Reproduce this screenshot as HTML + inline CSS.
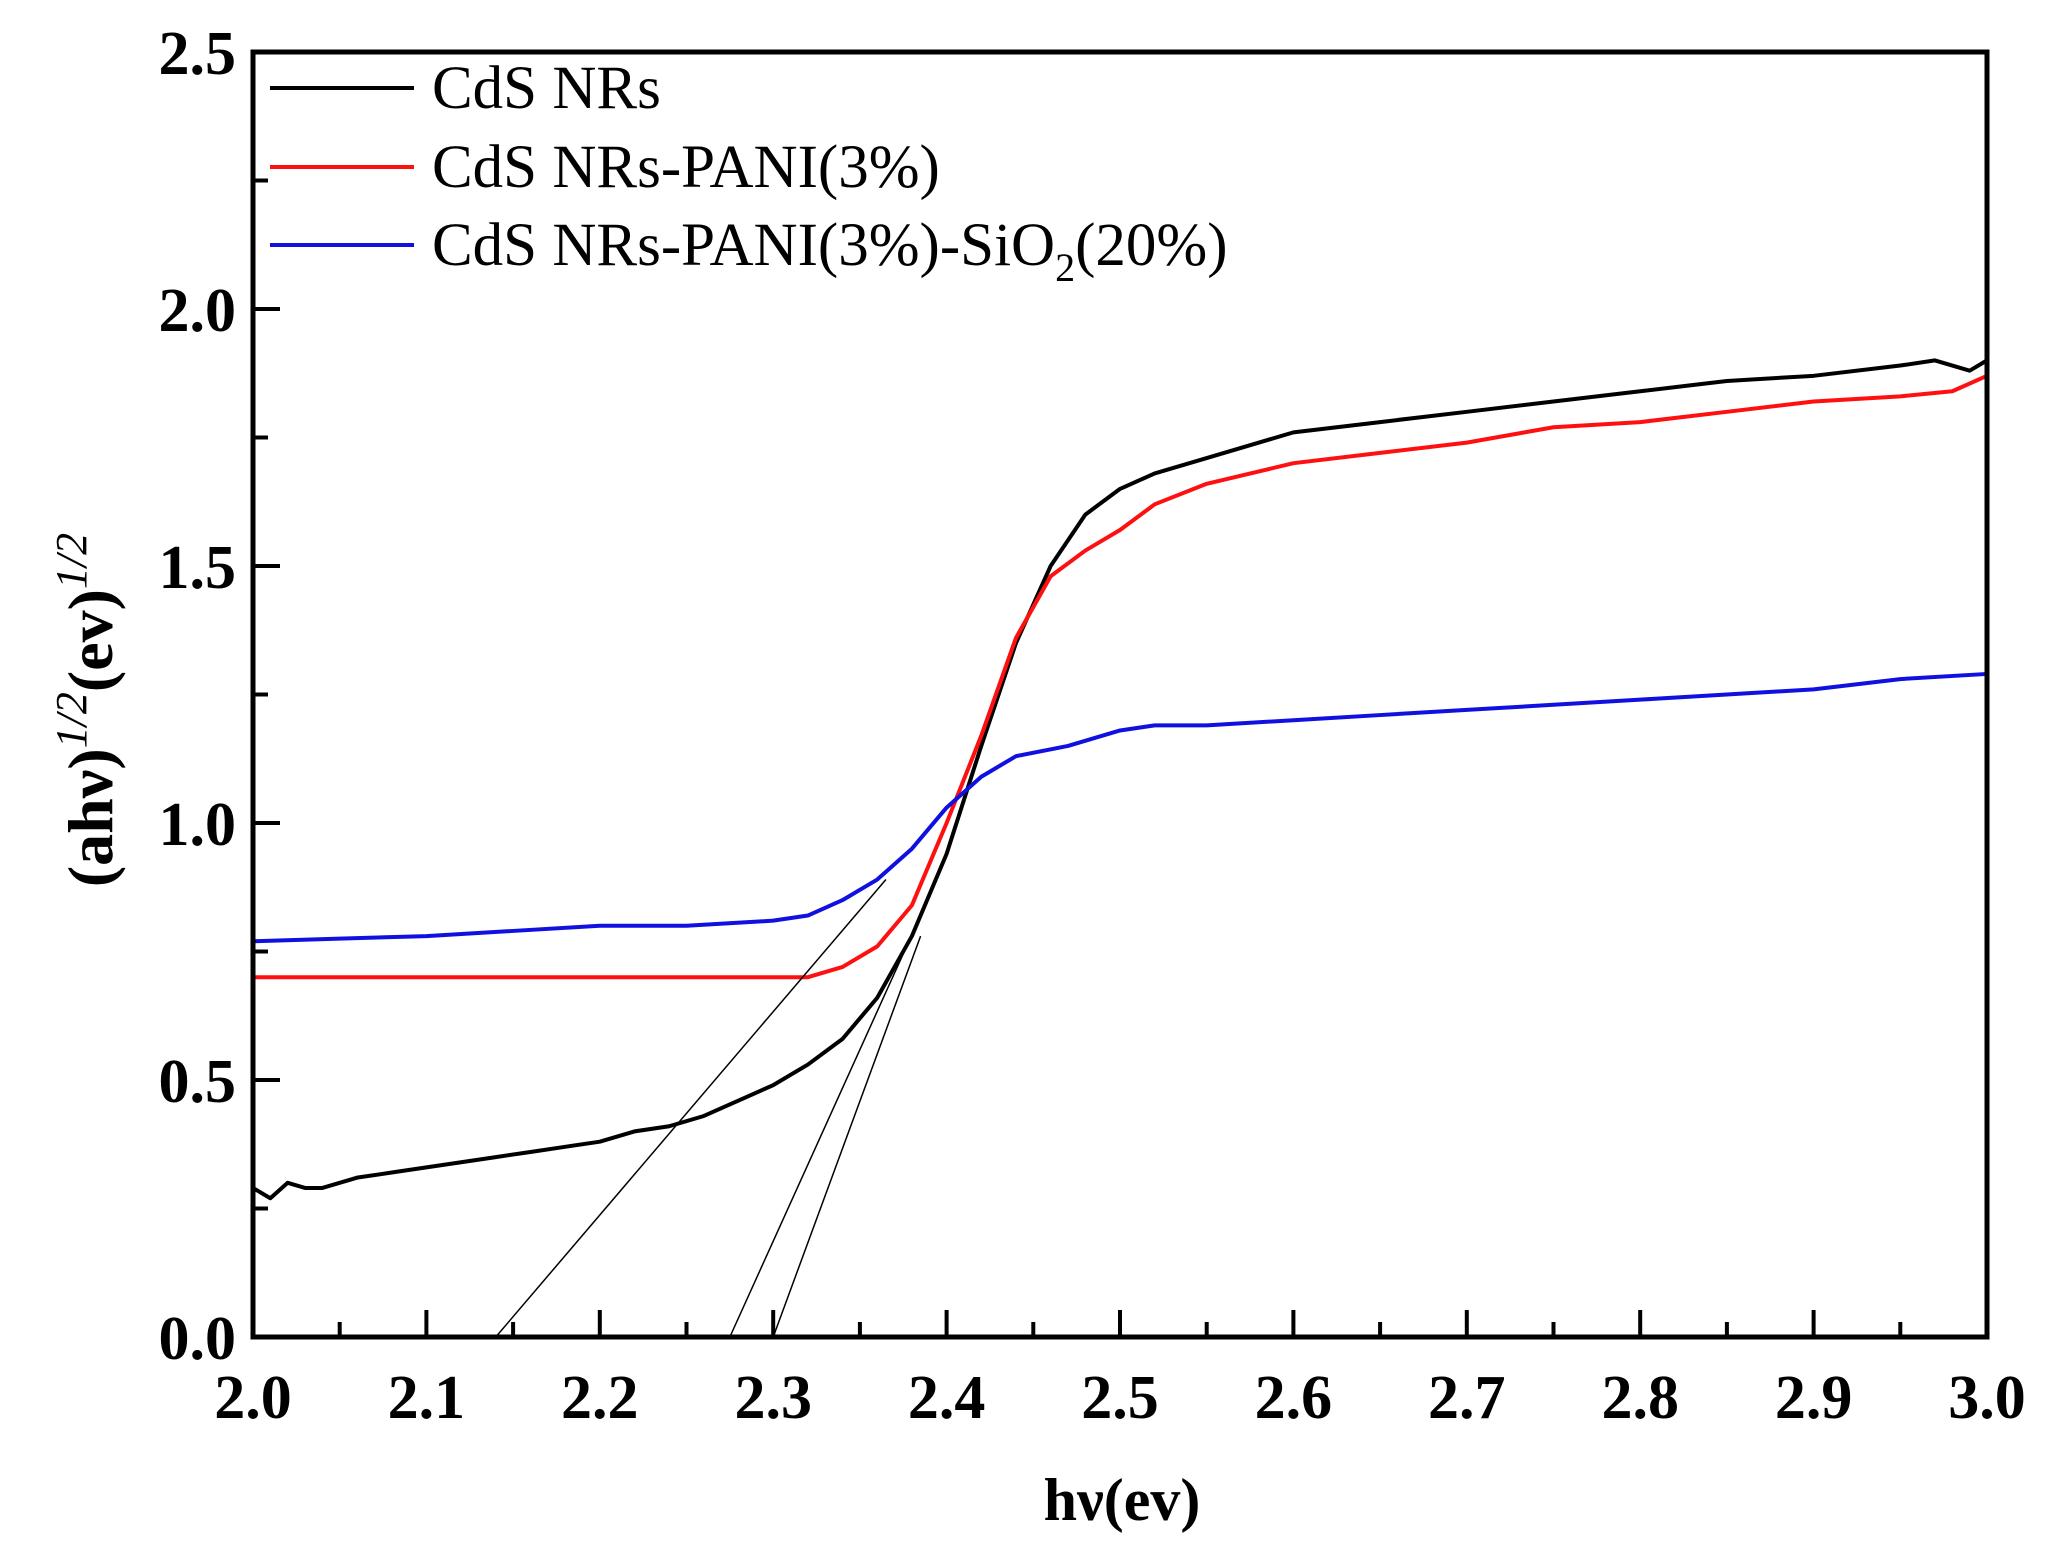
<!DOCTYPE html>
<html><head><meta charset="utf-8"><style>
body{margin:0;background:#fff}
svg{display:block;font-family:"Liberation Serif",serif}
</style></head><body>
<svg id="chart" width="2057" height="1558" viewBox="0 0 2057 1558" xmlns="http://www.w3.org/2000/svg">
<g id="plot"></g>
</svg>
<script>
const xTicks=[2.0,2.1,2.2,2.3,2.4,2.5,2.6,2.7,2.8,2.9,3.0];
const xTickLabels=["2.0","2.1","2.2","2.3","2.4","2.5","2.6","2.7","2.8","2.9","3.0"];
const yTicks=[0,0.5,1.0,1.5,2.0,2.5];
const yTickLabels=["0.0","0.5","1.0","1.5","2.0","2.5"];
const blackX=[2.0,2.01,2.02,2.03,2.04,2.06,2.08,2.1,2.12,2.14,2.16,2.18,2.2,2.22,2.24,2.26,2.28,2.3,2.32,2.34,2.36,2.38,2.4,2.42,2.44,2.46,2.48,2.5,2.52,2.55,2.6,2.65,2.7,2.75,2.8,2.85,2.9,2.95,2.97,2.99,3.0];
const blackY=[0.29,0.27,0.30,0.29,0.29,0.31,0.32,0.33,0.34,0.35,0.36,0.37,0.38,0.40,0.41,0.43,0.46,0.49,0.53,0.58,0.66,0.78,0.94,1.15,1.35,1.50,1.60,1.65,1.68,1.71,1.76,1.78,1.80,1.82,1.84,1.86,1.87,1.89,1.90,1.88,1.90];
const redX=[2.0,2.05,2.1,2.15,2.2,2.25,2.3,2.32,2.34,2.36,2.38,2.4,2.42,2.44,2.46,2.48,2.5,2.52,2.55,2.6,2.65,2.7,2.75,2.8,2.85,2.9,2.95,2.98,3.0];
const redY=[0.70,0.70,0.70,0.70,0.70,0.70,0.70,0.70,0.72,0.76,0.84,1.0,1.17,1.36,1.48,1.53,1.57,1.62,1.66,1.70,1.72,1.74,1.77,1.78,1.80,1.82,1.83,1.84,1.87];
const blueX=[2.0,2.05,2.1,2.15,2.2,2.25,2.3,2.32,2.34,2.36,2.38,2.4,2.42,2.44,2.47,2.5,2.52,2.55,2.6,2.65,2.7,2.75,2.8,2.85,2.9,2.95,3.0];
const blueY=[0.77,0.775,0.78,0.79,0.80,0.80,0.81,0.82,0.85,0.89,0.95,1.03,1.09,1.13,1.15,1.18,1.19,1.19,1.20,1.21,1.22,1.23,1.24,1.25,1.26,1.28,1.29];
const tangentX0=[2.14,2.275,2.30];
const tangentX1=[2.365,2.385,2.385];
const tangentY1=[0.89,0.82,0.78];
const seriesNames=["CdS NRs","CdS NRs-PANI(3%)","CdS NRs-PANI(3%)-SiO"];
const L=253,R=1987,T=52,B=1337;
const sx=v=>L+(v-2)/(1)*(R-L);
const sy=v=>B-v/2.5*(B-T);
const NS="http://www.w3.org/2000/svg";
const g=document.getElementById('plot');
function mk(tag,at,parent){const e=document.createElementNS(NS,tag);for(const k in at)e.setAttribute(k,at[k]);(parent||g).appendChild(e);return e;}
function series(xs,ys,color,name){
  const p=mk('polyline',{points:xs.map((x,i)=>sx(x)+','+sy(ys[i])).join(' '),fill:'none',stroke:color,'stroke-width':4,'stroke-linejoin':'round'});
  
  
}
series(blackX,blackY,'#000','series-cds-nrs');
series(redX,redY,'#ff1010','series-cds-pani');
series(blueX,blueY,'#1010e0','series-cds-pani-sio2');
tangentX0.forEach((x0,i)=>{
  const l=mk('line',{x1:sx(x0),y1:sy(0),x2:sx(tangentX1[i]),y2:sy(tangentY1[i]),stroke:'#000','stroke-width':1.5});
  
  
});
const fr=mk('rect',{x:L,y:T,width:R-L,height:B-T,fill:'none',stroke:'#000','stroke-width':5});


xTicks.forEach((v,i)=>{
  const x=sx(v);
  mk('line',{x1:x,y1:B,x2:x,y2:B-27,stroke:'#000','stroke-width':4});
  if(i<xTicks.length-1){const xm=sx(v+0.05);mk('line',{x1:xm,y1:B,x2:xm,y2:B-15,stroke:'#000','stroke-width':4});}
  const t=mk('text',{x:x,y:1418,'text-anchor':'middle','font-size':62,'font-weight':'bold'});
  t.textContent=xTickLabels[i];
  
  
});
yTicks.forEach((v,i)=>{
  const y=sy(v);
  mk('line',{x1:L,y1:y,x2:L+27,y2:y,stroke:'#000','stroke-width':4});
  if(i<yTicks.length-1){const ym=sy(v+0.25);mk('line',{x1:L,y1:ym,x2:L+15,y2:ym,stroke:'#000','stroke-width':4});}
  const t=mk('text',{x:236,y:y+22,'text-anchor':'end','font-size':62,'font-weight':'bold'});
  t.textContent=yTickLabels[i];
  
  
});
const cols=['#000','#ff1010','#1010e0'];
const ly=[88,167,245];
seriesNames.forEach((n,i)=>{
  const l=mk('line',{x1:270,y1:ly[i],x2:414,y2:ly[i],stroke:cols[i],'stroke-width':4});
  
  
  const t=mk('text',{x:432,y:ly[i]+20,'font-size':61});
  
  
  t.textContent=n;
  if(i===2){
    const s=mk('tspan',{'font-size':40,dy:16},t);s.textContent='2';
    const s2=mk('tspan',{dy:-16},t);s2.textContent='(20%)';
  }
});
const xt=mk('text',{x:1122,y:1520,'text-anchor':'middle','font-size':60,'font-weight':'bold'});
xt.textContent='hν(ev)';


const yt=mk('text',{x:0,y:0,'text-anchor':'middle','font-size':64,'font-weight':'bold',transform:'translate(112,710) rotate(-90)'});


const a=mk('tspan',{},yt);a.textContent='(ahν)';
const b=mk('tspan',{dy:-26,'font-size':44,'font-weight':'normal','font-style':'italic'},yt);b.textContent='1/2';
const c=mk('tspan',{dy:26},yt);c.textContent='(ev)';
const d=mk('tspan',{dy:-26,'font-size':44,'font-weight':'normal','font-style':'italic'},yt);d.textContent='1/2';
</script>
</body></html>
